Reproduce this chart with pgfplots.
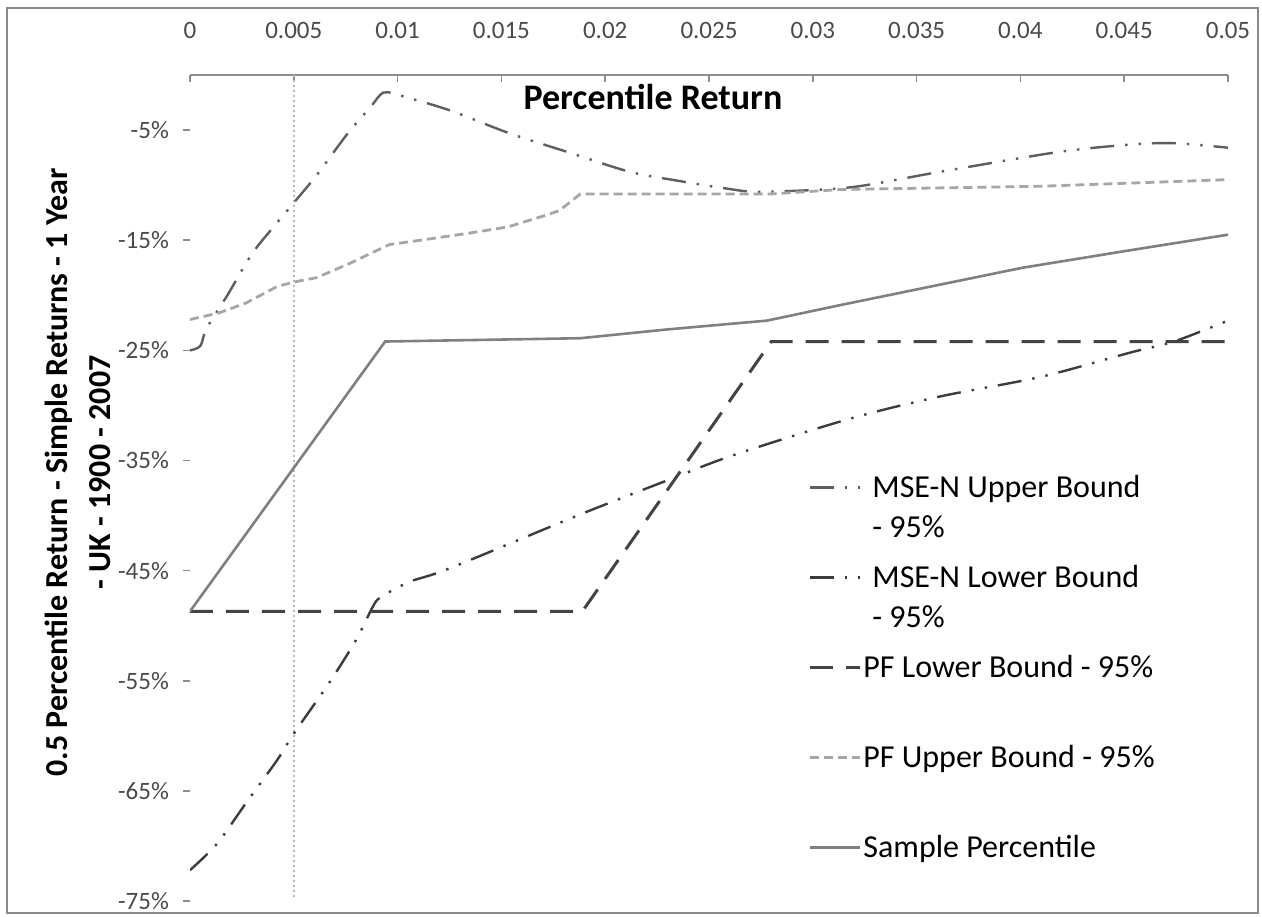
\documentclass[border=0pt]{standalone}
\usepackage{fontspec}
\setmainfont{Carlito}
\usepackage{pgfplots}
\pgfplotsset{compat=1.18}
\definecolor{framegray}{HTML}{8A8A8A}
\definecolor{axisgray}{HTML}{8C8C8C}
\definecolor{tickgray}{HTML}{4A4A4A}
\definecolor{mseup}{HTML}{5E5E5E}
\definecolor{mselo}{HTML}{3C3C3C}
\definecolor{pflo}{HTML}{444444}
\definecolor{pfup}{HTML}{A6A6A6}
\definecolor{samp}{HTML}{808080}
\definecolor{vline}{HTML}{B8B8B8}
\begin{document}
\begin{tikzpicture}
\path[use as bounding box, fill=white] (-95pt,-7.5pt) rectangle (536pt,450.5pt);
\draw[framegray, line width=1pt] (-91.5pt,-6pt) rectangle (534pt,446.5pt);
\begin{axis}[
  at={(0pt,0pt)}, anchor=south west,
  scale only axis, width=519pt, height=413pt,
  xmin=0, xmax=0.05, ymin=-75, ymax=0,
  axis x line=top, axis y line=left,
  x axis line style={-, draw=axisgray, line width=0.9pt},
  y axis line style={draw=none},
  tick align=inside,
  major tick length=3.5pt,
  x tick style={draw=axisgray, line width=0.8pt},
  y tick style={draw=axisgray, line width=0.8pt, xshift=-3.5pt},
  xtick={0,0.005,0.01,0.015,0.02,0.025,0.03,0.035,0.04,0.045,0.05},
  xticklabels={0,0.005,0.01,0.015,0.02,0.025,0.03,0.035,0.04,0.045,0.05},
  ytick={-75,-65,-55,-45,-35,-25,-15,-5},
  yticklabels={-75\%,-65\%,-55\%,-45\%,-35\%,-25\%,-15\%,-5\%},
  xticklabel style={font=\fontsize{12.5}{15}\selectfont, text=tickgray, yshift=14.5pt},
  yticklabel style={font=\fontsize{12.5}{15}\selectfont, text=tickgray, xshift=-7pt},
  scaled x ticks=false,
  xlabel={Percentile Return},
  xlabel style={at={(axis description cs:0.446,0.973)}, anchor=center, font=\fontsize{18}{21}\selectfont\bfseries},
  ylabel={0.5 Percentile Return - Simple Returns - 1 Year\\- UK - 1900 - 2007},
  ylabel style={at={(axis description cs:-0.108,0.519)}, anchor=center, align=center, font=\fontsize{16}{21.5}\selectfont\bfseries},
  legend style={at={(axis cs:0.02977,-36.15)}, anchor=north west, draw=none, fill=none,
    font=\fontsize{16}{20}\selectfont, inner sep=0pt, row sep=0pt, column sep=0pt,
    nodes={inner xsep=1pt, inner ysep=0pt, text height=12pt, text depth=33pt}},
  legend cell align=left,
  legend image code/.code={\draw[#1] (0pt,15.5pt) -- (25pt,15.5pt);},
]
\addplot[forget plot, vline, line width=1pt, dash pattern=on 1pt off 1.5pt] coordinates {(0.005,0) (0.005,-74.7)};

\addplot[mseup, line width=1.2pt, smooth, tension=0.5, dash pattern=on 12pt off 5.5pt on 1.2pt off 5.5pt on 1.2pt off 5.5pt] coordinates {
(0,-25.0) (0.0005,-24.6) (0.0008,-23.0) (0.0018,-20.0) (0.003,-16.2) (0.0042,-13.4) (0.005,-11.6)
(0.0061,-9.1) (0.0076,-5.3) (0.0087,-2.9) (0.0093,-1.6) (0.0100,-1.8) (0.0125,-3.2) (0.0154,-5.3)
(0.0182,-7.0) (0.0212,-8.8) (0.0235,-9.6) (0.0258,-10.3) (0.0275,-10.6) (0.0318,-10.2) (0.0361,-8.8)
(0.0418,-7.0) (0.0454,-6.3) (0.0475,-6.2) (0.05,-6.6)};
\addlegendentry{\vtop{\hbox{\hspace*{4.5pt}MSE-N Upper Bound}\hbox{\hspace*{4.5pt}- 95\%}}}

\addplot[mselo, line width=1.2pt, smooth, tension=0.5, dash pattern=on 12pt off 5.5pt on 1.2pt off 5.5pt on 1.2pt off 5.5pt] coordinates {
(0,-72.2) (0.0013,-69.8) (0.0027,-66.1) (0.0042,-62.2) (0.005,-59.8) (0.0067,-55.2) (0.008,-51.3)
(0.0088,-48.3) (0.0092,-47.4) (0.0106,-46.0) (0.0125,-44.8) (0.0188,-39.9) (0.023,-36.8) (0.0262,-34.5)
(0.0318,-31.2) (0.0361,-29.2) (0.041,-27.4) (0.0453,-25.2) (0.0474,-24.2) (0.05,-22.3)};
\addlegendentry{\vtop{\hbox{\hspace*{4.5pt}MSE-N Lower Bound}\hbox{\hspace*{4.5pt}- 95\%}}}

\addplot[pflo, line width=1.5pt, dash pattern=on 11.5pt off 6.5pt] coordinates {
(0,-48.7) (0.0189,-48.7) (0.028,-24.2) (0.05,-24.2)};
\addlegendentry{PF Lower Bound - 95\%}

\addplot[pfup, line width=1.4pt, dash pattern=on 4.5pt off 2.5pt] coordinates {
(0,-22.2) (0.0014,-21.6) (0.0027,-20.7) (0.0042,-19.2) (0.005,-18.8) (0.0061,-18.4) (0.0077,-17.1)
(0.0096,-15.4) (0.0111,-15.0) (0.0133,-14.4) (0.0153,-13.8) (0.0172,-12.7) (0.0178,-12.3)
(0.0188,-10.8) (0.028,-10.8) (0.0313,-10.4) (0.041,-10.1) (0.05,-9.5)};
\addlegendentry{PF Upper Bound - 95\%}

\addplot[samp, line width=1.3pt] coordinates {
(0,-48.7) (0.0094,-24.2) (0.0188,-23.9) (0.023,-23.1) (0.0278,-22.3) (0.0313,-20.9) (0.0401,-17.5)
(0.045,-16.0) (0.05,-14.5)};
\addlegendentry{Sample Percentile}
\end{axis}
\end{tikzpicture}
\end{document}
